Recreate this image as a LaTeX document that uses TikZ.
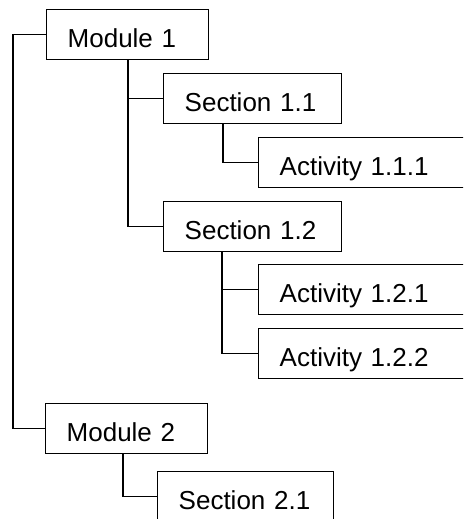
\documentclass[tikz,border=0pt]{standalone}
\usepackage{fontspec}
\setmainfont{Liberation Sans}
\begin{document}
\begin{tikzpicture}[x=1pt,y=-1pt,
  box/.style={draw=black,line width=1.4pt,anchor=north west,inner xsep=21pt,inner ysep=0pt,
    text height=38pt,text depth=12pt,align=left,font=\fontsize{26}{30}\selectfont},
  conn/.style={draw=black,line width=1.4pt}]
\useasboundingbox (0,0) rectangle (463,519);
\clip (0,0) rectangle (463,519);
\fill[white] (0,0) rectangle (463,519);
\node[box,text width=120pt] (m1) at (46,9) {Module 1};
\node[box,text width=136pt] (s11) at (163,73) {Section 1.1};
\node[box,text width=190pt] (a111) at (258,137) {Activity 1.1.1};
\node[box,text width=136pt] (s12) at (163,201) {Section 1.2};
\node[box,text width=190pt] (a121) at (258,264) {Activity 1.2.1};
\node[box,text width=190pt] (a122) at (258,328) {Activity 1.2.2};
\node[box,text width=120pt] (m2) at (45,403) {Module 2};
\node[box,text width=134pt] (s21) at (157,471) {Section 2.1};
\path ([xshift=-33pt]m1.west) coordinate (j0);
\path ([xshift=-35pt]s11.west) coordinate (j1);
\path ([xshift=-35pt]a111.west) coordinate (j2);
\path ([xshift=-36pt]a121.west) coordinate (j3);
\path ([xshift=-34pt]s21.west) coordinate (j4);
\draw[conn] (m1.west) -- (j0) |- (m2.west);
\draw[conn] (j1 |- m1.south) |- (s11.west);
\draw[conn] (j1 |- m1.south) |- (s12.west);
\draw[conn] (j2 |- s11.south) |- (a111.west);
\draw[conn] (j3 |- s12.south) |- (a121.west);
\draw[conn] (j3 |- s12.south) |- (a122.west);
\draw[conn] (j4 |- m2.south) |- (s21.west);
\end{tikzpicture}
\end{document}
